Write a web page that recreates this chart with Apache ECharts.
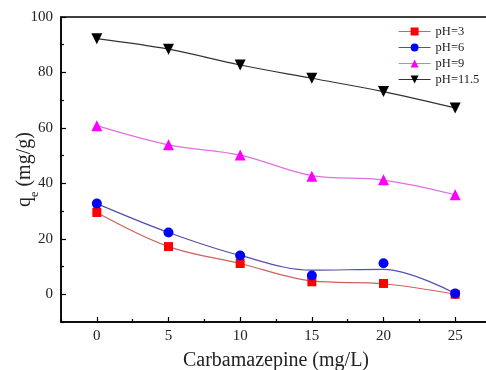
<!DOCTYPE html>
<html>
<head>
<meta charset="utf-8">
<script src="https://cdn.jsdelivr.net/npm/echarts@6/dist/echarts.min.js"></script>
<style>
html,body{margin:0;padding:0;background:#fff;}
#chart{width:486px;height:370px;}
</style>
</head>
<body>
<div id="chart"></div>
<script>
// Carbamazepine concentration (mg/L)
const concentration = [0, 5, 10, 15, 20, 25];

// Measured adsorption capacity qe (mg/g) at each pH
const ph3  = [29.5, 17.2, 11.1, 4.5, 3.9, 0.0];
const ph6  = [32.7, 22.3, 14.0, 6.8, 11.2, 0.3];
const ph9  = [60.8, 53.9, 50.2, 42.6, 41.3, 35.9];
const ph115 = [92.2, 88.4, 82.7, 77.9, 73.1, 67.2];

// Smoothed trend curves through each data set
const fit3  = [29.5, 17.2, 11.1, 4.8, 3.8, 0.0];
const fit6  = [32.7, 22.3, 14.0, 8.7, 9.0, 0.3];
const fit9  = [60.8, 53.9, 50.2, 42.8, 41.2, 35.9];
const fit115 = [92.2, 88.4, 82.7, 77.9, 73.1, 67.2];

const seriesNames = ['pH=3', 'pH=6', 'pH=9', 'pH=11.5'];

// Axis tick positions
const xMajor = [0, 5, 10, 15, 20, 25];
const xMinor = [-2.5, 2.5, 7.5, 12.5, 17.5, 22.5, 27.5];
const yMajor = [0, 20, 40, 60, 80, 100];
const yMinor = [-10, 10, 30, 50, 70, 90];

const font = 'Liberation Serif, Times New Roman, serif';

const sets = [
  { name: seriesNames[0], pts: ph3, fit: fit3, symbol: 'rect', size: 9, rot: 0, mark: '#ff0000', line: '#d0605c' },
  { name: seriesNames[1], pts: ph6, fit: fit6, symbol: 'circle', size: 10, rot: 0, mark: '#0000ff', line: '#5050b0' },
  { name: seriesNames[2], pts: ph9, fit: fit9, symbol: 'triangle', size: 11, rot: 0, mark: '#ff00ff', line: '#e070e0' },
  { name: seriesNames[3], pts: ph115, fit: fit115, symbol: 'triangle', size: 11, rot: 180, mark: '#000000', line: '#333333' }
];

const pair = (xs, ys) => xs.map((x, i) => [x, ys[i]]);

const series = [];
sets.forEach(s => {
  series.push({
    type: 'line',
    name: s.name + ' fit',
    data: pair(concentration, s.fit),
    smooth: 0.35,
    showSymbol: false,
    symbol: 'none',
    silent: true,
    lineStyle: { color: s.line, width: 1.2 },
    z: 2
  });
});
sets.forEach(s => {
  series.push({
    type: 'line',
    name: s.name,
    data: pair(concentration, s.pts),
    symbol: s.symbol,
    symbolSize: s.size,
    symbolRotate: s.rot,
    itemStyle: { color: s.mark },
    lineStyle: { color: s.line, width: 0, opacity: 0 },
    z: 3
  });
});

const baseX = {
  type: 'value', min: -2.5, max: 27.5, position: 'bottom',
  splitLine: { show: false }
};
const baseY = {
  type: 'value', min: -10, max: 100, interval: 10, position: 'left',
  splitLine: { show: false }
};

const option = {
  animation: false,
  backgroundColor: '#ffffff',
  grid: {
    left: 61, top: 17, right: -5, bottom: 48,
    containLabel: false, outerBoundsMode: 'none',
    show: true, borderColor: '#000', borderWidth: 1.5, backgroundColor: 'transparent'
  },
  legend: {
    orient: 'vertical',
    left: 393, top: 20,
    itemWidth: 32, itemHeight: 10, itemGap: 3,
    textStyle: { fontFamily: font, fontSize: 12.5, color: '#222' },
    data: sets.map(s => ({ name: s.name, lineStyle: { color: s.line, width: 1.2, opacity: 1 } }))
  },
  xAxis: [
    Object.assign({}, baseX, {
      name: 'Carbamazepine (mg/L)',
      nameLocation: 'middle', nameGap: 29,
      nameTextStyle: { fontFamily: font, fontSize: 20, color: '#222' },
      axisLine: { show: true, onZero: false, lineStyle: { color: '#000', width: 1.5 } },
      axisTick: { show: true, inside: true, length: 5, customValues: xMajor, lineStyle: { color: '#000', width: 1.2 } },
      axisLabel: { customValues: xMajor, margin: 7, fontFamily: font, fontSize: 15, color: '#222' }
    }),
    Object.assign({}, baseX, {
      axisLine: { show: false, onZero: false },
      axisTick: { show: true, inside: true, length: 3, customValues: xMinor, lineStyle: { color: '#000', width: 1.2 } },
      axisLabel: { show: false }
    })
  ],
  yAxis: [
    Object.assign({}, baseY, {
      name: '{q|q}{s|e}{q| (mg/g)}',
      nameLocation: 'middle', nameGap: 26, nameRotate: 90, nameMoveOverlap: false,
      nameTextStyle: {
        fontFamily: font, fontSize: 20, color: '#222',
        rich: {
          q: { fontFamily: font, fontSize: 20, color: '#222' },
          s: { fontFamily: font, fontSize: 12, color: '#222', verticalAlign: 'bottom', padding: [0, 0, -6, 0] }
        }
      },
      axisLine: { show: true, onZero: false, lineStyle: { color: '#000', width: 1.5 } },
      axisTick: { show: true, inside: true, length: 5, customValues: yMajor, lineStyle: { color: '#000', width: 1.2 } },
      axisLabel: { customValues: yMajor, margin: 8, fontFamily: font, fontSize: 15, color: '#222' }
    }),
    Object.assign({}, baseY, {
      axisLine: { show: false, onZero: false },
      axisTick: { show: true, inside: true, length: 3, customValues: yMinor, lineStyle: { color: '#000', width: 1.2 } },
      axisLabel: { show: false }
    })
  ],
  series: series
};

// keep all series on the first axes pair
option.series.forEach(s => { s.xAxisIndex = 0; s.yAxisIndex = 0; });

const chart = echarts.init(document.getElementById('chart'), null, { renderer: 'canvas' });
chart.setOption(option);
</script>
</body>
</html>
